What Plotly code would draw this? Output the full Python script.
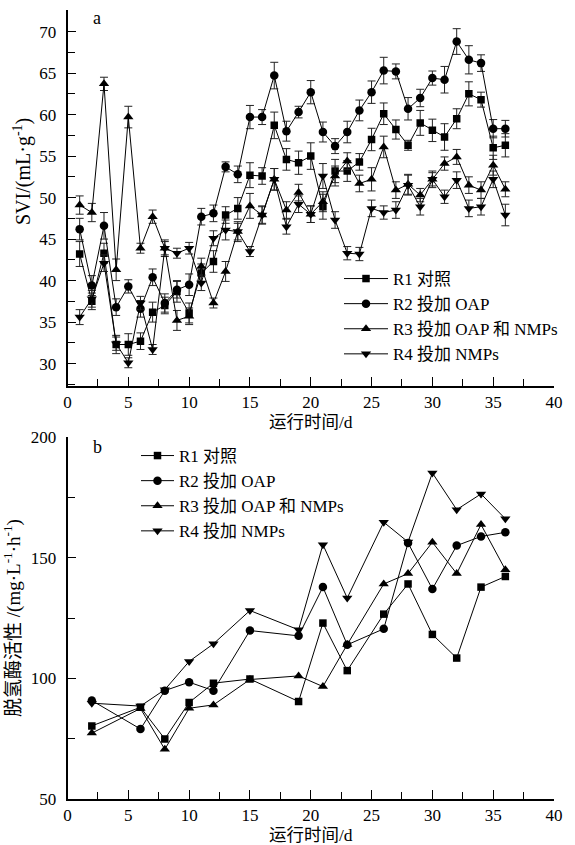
import plotly.graph_objects as go

# ---------------- data: panel a (SVI) ----------------
days = list(range(1, 37))
r1_svi = [43.2, 37.5, 43.3, 32.3, 32.3, 32.7, 36.2, 37.0, 38.7, 36.1, 40.9, 42.3,
          47.9, 48.7, 52.7, 52.6, 58.7, 54.6, 54.2, 55.0, 48.9, 53.2, 53.2, 54.3,
          57.0, 60.1, 58.2, 56.3, 59.0, 58.1, 57.3, 59.5, 62.5, 61.8, 56.0, 56.3]
r2_svi = [46.2, 39.4, 46.6, 36.8, 39.3, 36.6, 40.4, 37.3, 38.9, 39.5, 47.7, 48.1,
          53.7, 52.8, 59.7, 59.7, 64.7, 58.0, 60.3, 62.7, 57.9, 56.2, 57.9, 60.5,
          62.7, 65.3, 65.2, 60.7, 62.0, 64.4, 64.2, 68.8, 66.6, 66.2, 58.3, 58.3]
r3_svi = [49.1, 48.2, 63.7, 41.3, 59.7, 43.9, 47.7, 43.9, 35.2, 35.7, 41.7, 37.3,
          41.1, 45.9, 49.0, 47.9, 52.2, 48.5, 50.6, 48.0, 49.5, 52.6, 54.4, 51.7,
          52.2, 56.1, 50.9, 51.6, 50.3, 52.2, 54.1, 54.9, 51.5, 50.9, 53.9, 51.0]
r4_svi = [35.6, 37.8, 42.1, 32.4, 30.1, 37.3, 31.7, 43.9, 43.3, 43.9, 39.7, 45.1,
          46.1, 45.9, 43.5, 47.9, 52.2, 46.5, 49.2, 48.0, 52.6, 47.3, 43.3, 43.2,
          48.7, 48.2, 48.5, 51.5, 48.9, 52.2, 50.1, 52.1, 48.7, 48.9, 52.2, 47.9]
r1_err = [1.5, 1.0, 1.2, 1.1, 1.3, 1.0, 1.2, 1.0, 1.3, 1.2, 1.1, 1.3,
          1.0, 1.3, 1.5, 1.0, 1.6, 1.3, 1.4, 1.6, 1.5, 1.4, 1.25, 1.0,
          1.35, 1.3, 1.15, 0.6, 1.5, 1.35, 1.6, 1.2, 1.45, 0.9, 1.4, 1.4]
r2_err = [1.3, 1.2, 1.6, 1.0, 0.8, 1.0, 1.0, 1.1, 1.0, 1.3, 1.0, 1.0,
          0.6, 1.0, 1.4, 0.9, 1.6, 1.2, 0.7, 1.4, 1.2, 0.9, 1.3, 1.25,
          1.35, 1.6, 0.9, 1.35, 1.05, 0.85, 1.6, 1.55, 1.7, 1.0, 1.1, 1.0]
r3_err = [1.1, 1.1, 0.8, 1.3, 1.3, 0.6, 0.8, 1.0, 1.2, 1.0, 1.0, 0.6,
          1.2, 1.2, 1.5, 1.1, 1.3, 1.0, 1.0, 1.0, 1.2, 1.2, 1.0, 1.0,
          1.4, 1.3, 1.0, 1.2, 0.8, 0.8, 0.8, 0.9, 1.0, 1.0, 1.2, 0.9]
r4_err = [0.9, 1.0, 1.0, 0.8, 0.6, 0.8, 0.6, 0.8, 0.6, 0.7, 0.9, 0.9,
          1.2, 1.0, 0.6, 1.0, 1.3, 0.9, 1.0, 1.0, 1.5, 1.0, 0.8, 0.8,
          1.0, 0.8, 1.0, 1.2, 1.0, 1.0, 0.8, 1.0, 1.0, 1.0, 1.0, 1.3]

# ---------------- data: panel b (dehydrogenase activity) ----------------
days_b = [2, 6, 8, 10, 12, 15, 19, 21, 23, 26, 28, 30, 32, 34, 36]
r1_dha = [80.3, 88.0, 74.9, 90.0, 98.0, 99.7, 90.4, 122.9, 103.2, 126.6, 139.1, 118.2, 108.4, 137.8, 142.2]
r2_dha = [90.8, 79.0, 94.9, 98.4, 94.9, 119.8, 117.6, 137.8, 113.9, 120.5, 156.1, 137.0, 155.0, 158.8, 160.5]
r3_dha = [77.3, 87.5, 70.6, 87.6, 89.0, 99.5, 101.0, 96.6, 114.0, 139.1, 143.4, 156.4, 143.4, 163.7, 145.0]
r4_dha = [89.7, 88.5, 95.3, 107.0, 114.3, 128.1, 120.1, 155.4, 133.3, 164.7, 156.5, 185.1, 169.9, 176.4, 166.1]

names = ["R1 对照", "R2 投加 OAP", "R3 投加 OAP 和 NMPs", "R4 投加 NMPs"]
symbols = ["square", "circle", "triangle-up", "triangle-down"]
sizes = [7.5, 8.5, 9, 9]

x_title = "运行时间/d"
ya_title = "SVI/(mL·g<sup>-1</sup>)"
yb_title = "脱氢酶活性 /(mg·L<sup>-1</sup>·h<sup>-1</sup>)"

FONT = "Liberation Serif, 'Times New Roman', 'Noto Sans CJK SC', serif"

fig = go.Figure()

svi_sets = [(r1_svi, r1_err), (r2_svi, r2_err), (r3_svi, r3_err), (r4_svi, r4_err)]
for (vals, errs), nm, sym, sz in zip(svi_sets, names, symbols, sizes):
    fig.add_trace(go.Scatter(
        x=days, y=vals, name=nm, mode="lines+markers",
        line=dict(color="black", width=1),
        marker=dict(symbol=sym, size=sz, color="black"),
        error_y=dict(type="data", array=errs, visible=True, color="#222", thickness=1, width=4),
        xaxis="x", yaxis="y", legend="legend",
    ))

for vals, nm, sym, sz in zip([r1_dha, r2_dha, r3_dha, r4_dha], names, symbols, sizes):
    fig.add_trace(go.Scatter(
        x=days_b, y=vals, name=nm, mode="lines+markers",
        line=dict(color="black", width=1),
        marker=dict(symbol=sym, size=sz, color="black"),
        xaxis="x2", yaxis="y2", legend="legend2",
    ))

W, H = 575, 845
xdom = [67.5 / W, 554 / W]
axis_common = dict(
    showline=True, linecolor="black", linewidth=1.5, mirror=False,
    ticks="inside", ticklen=9, tickwidth=1.2, tickcolor="black",
    showgrid=False, zeroline=False, automargin=False,
    tickfont=dict(family=FONT, size=17, color="black"),
)

fig.update_layout(
    width=W, height=H,
    margin=dict(l=0, r=0, t=0, b=0),
    paper_bgcolor="white", plot_bgcolor="white",
    font=dict(family=FONT, size=17, color="black"),
    xaxis=dict(domain=xdom, anchor="y", range=[0, 40], dtick=5,
               minor=dict(dtick=2.5, ticks="inside", ticklen=7, tickcolor="black"),
               title=dict(text=x_title, font=dict(family=FONT, size=17.5), standoff=4),
               **axis_common),
    yaxis=dict(domain=[1 - 386 / H, 1 - 10 / H], anchor="x", range=[27.3, 72.6],
               tickvals=[30, 35, 40, 45, 50, 55, 60, 65, 70],
               minor=dict(tickvals=[27.5, 32.5, 37.5, 42.5, 47.5, 52.5, 57.5, 62.5, 67.5, 72.5],
                          ticks="inside", ticklen=8, tickcolor="black"),
               ticklabelstandoff=6,
               **axis_common),
    xaxis2=dict(domain=xdom, anchor="y2", range=[0, 40], dtick=5,
                minor=dict(dtick=2.5, ticks="inside", ticklen=7, tickcolor="black"),
                title=dict(text=x_title, font=dict(family=FONT, size=17.5), standoff=2),
                **axis_common),
    yaxis2=dict(domain=[1 - 799 / H, 1 - 437 / H], anchor="x2", range=[50, 200], dtick=50,
                minor=dict(dtick=25, ticks="inside", ticklen=8, tickcolor="black"),
                ticklabelstandoff=6,
                title=dict(text=yb_title, font=dict(family=FONT, size=19), standoff=6),
                **axis_common),
    legend=dict(x=339 / W, y=1 - 261 / H, xanchor="left", yanchor="top",
                bgcolor="rgba(0,0,0,0)", font=dict(family=FONT, size=17),
                tracegroupgap=0, itemwidth=44),
    legend2=dict(x=136 / W, y=1 - 438 / H, xanchor="left", yanchor="top",
                 bgcolor="rgba(0,0,0,0)", font=dict(family=FONT, size=17),
                 tracegroupgap=0, itemwidth=33),
    annotations=[
        dict(text=ya_title, x=22 / W, y=1 - 172 / H, xref="paper", yref="paper",
             xanchor="center", yanchor="middle", textangle=-90,
             showarrow=False, font=dict(family=FONT, size=20)),
        dict(text="a", x=97 / W, y=1 - 18 / H, xref="paper", yref="paper",
             xanchor="center", yanchor="middle",
             showarrow=False, font=dict(family=FONT, size=18)),
        dict(text="b", x=97 / W, y=1 - 447 / H, xref="paper", yref="paper",
             xanchor="center", yanchor="middle",
             showarrow=False, font=dict(family=FONT, size=18)),
    ],
)

fig.write_html("out.html")
